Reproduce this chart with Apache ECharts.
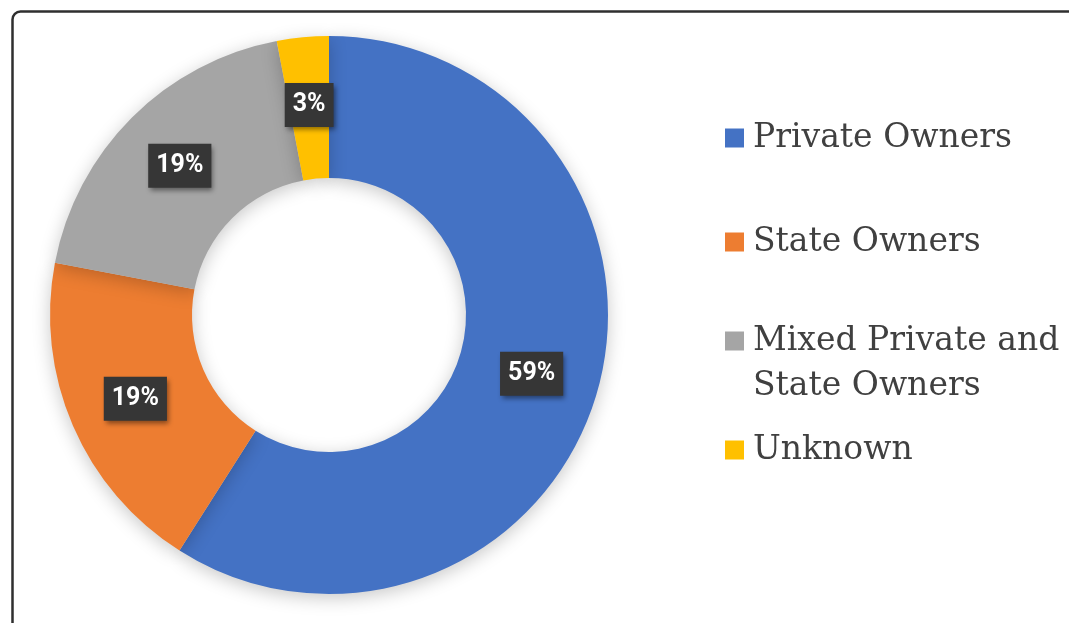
<!DOCTYPE html>
<html>
<head>
<meta charset="utf-8">
<script src="https://cdn.jsdelivr.net/npm/echarts@6/dist/echarts.min.js"></script>
<style>
html,body{margin:0;padding:0;background:#fff;}
#main{width:1069px;height:623px;}
</style>
</head>
<body>
<div id="main"></div>
<script>
const categories = ['Private Owners', 'State Owners', 'Mixed Private and State Owners', 'Unknown'];
const values = [59, 19, 19, 3];
const colors = ['#4472C4', '#ED7D31', '#A5A5A5', '#FFC000'];

const chart = echarts.init(document.getElementById('main'));
const legendTops = [118, 222, 321, 430];
const legendFont = { fontFamily: 'DejaVu Serif', fontSize: 33, color: '#404040', lineHeight: 40, padding: [0, 0, 0, 4] };

const legends = categories.map((name, i) => ({
  data: [name],
  orient: 'vertical',
  left: 725,
  top: legendTops[i],
  padding: 0,
  itemWidth: 19,
  itemHeight: 19,
  icon: 'rect',
  selectedMode: false,
  textStyle: legendFont,
  formatter: n => n === 'Mixed Private and State Owners' ? 'Mixed Private and' : n
}));

chart.setOption({
  animation: false,
  color: colors,
  legend: legends,
  graphic: [
    { type: 'rect', left: 10, top: 9, shape: { width: 1100, height: 640, r: 8 },
      style: { fill: 'none', stroke: '#2f2f2f', lineWidth: 2.5 }, z: 100 },
    { type: 'text', left: 753, top: 370,
      style: { text: 'State Owners', font: '33px "DejaVu Serif"', fill: '#404040' } }
  ],
  series: [{
    type: 'pie',
    center: [329, 315],
    radius: [137, 279],
    startAngle: 90,
    clockwise: true,
    itemStyle: { shadowBlur: 18, shadowColor: 'rgba(0,0,0,0.22)', shadowOffsetY: 4 },
    label: {
      show: true,
      position: 'inside',
      formatter: p => p.value + '%',
      fontFamily: 'Roboto',
      fontWeight: 'bold',
      fontSize: 25,
      color: '#fff',
      backgroundColor: '#363636',
      padding: [10, 8, 9, 8],
      shadowBlur: 5,
      shadowOffsetX: 2,
      shadowOffsetY: 3,
      shadowColor: 'rgba(0,0,0,0.45)'
    },
    labelLine: { show: false },
    data: categories.map((n, i) => ({ name: n, value: values[i] }))
  }]
});
</script>
</body>
</html>
